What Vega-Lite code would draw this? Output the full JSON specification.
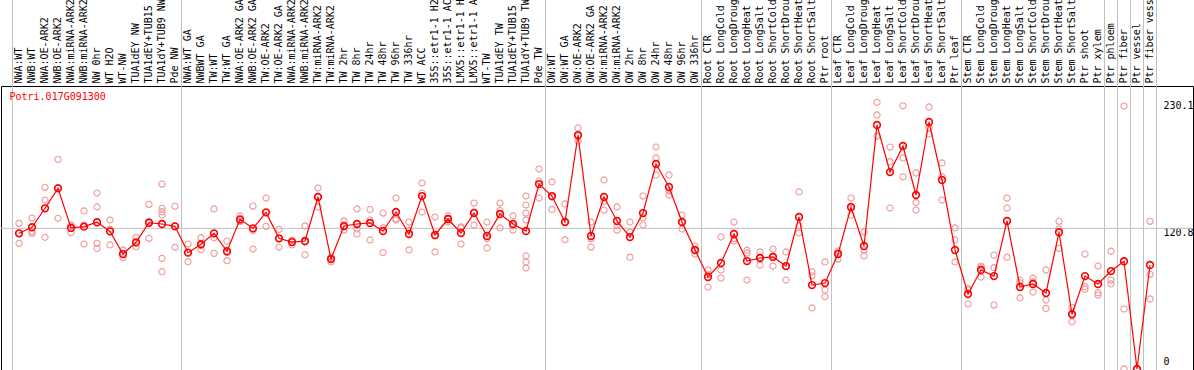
{
 "$schema": "https://vega.github.io/schema/vega-lite/v6.json",
 "width": 1192, "height": 284,
 "autosize": {"type": "none"},
 "padding": {"left": 1, "top": 86, "right": 1, "bottom": 0},
 "background": "white",
 "config": {"view": {"stroke": "black", "strokeWidth": 1}, "font": "DejaVu Sans Mono"},
 "datasets": {
  "means": [
   {"s":"NWA:WT","v":116.5},{"s":"NWB:WT","v":121.7},{"s":"NWA:OE-ARK2","v":138.0},{"s":"NWB:OE-ARK2","v":155.1},{"s":"NWA:miRNA-ARK2","v":121.1},{"s":"NWB:miRNA-ARK2","v":122.2},{"s":"NW 0hr","v":126.0},{"s":"WT H2O","v":118.2},{"s":"WT-NW","v":98.7},{"s":"TUA1dEY NW","v":108.8},{"s":"TUA1dEY+TUB15 NW","v":125.6},{"s":"TUA1dY+TUB9 NW","v":124.5},{"s":"Pde NW","v":122.5},
   {"s":"NWA:WT GA","v":99.9},{"s":"NWBWT GA","v":107.1},{"s":"TW:WT","v":116.5},{"s":"TW:WT GA","v":101.1},{"s":"NWA:OE-ARK2 GA","v":128.5},{"s":"NWB:OE-ARK2 GA","v":120.8},{"s":"TW:OE-ARK2","v":134.5},{"s":"TW:OE-ARK2 GA","v":112.2},{"s":"NWA:miRNA-ARK2 GA","v":109.0},{"s":"NWB:miRNA-ARK2 GA","v":109.9},{"s":"TW:miRNA-ARK2","v":147.7},{"s":"TW:miRNA-ARK2 GA","v":94.4},{"s":"TW 2hr","v":122.8},{"s":"TW 8hr","v":124.5},{"s":"TW 24hr","v":125.4},{"s":"TW 48hr","v":118.5},{"s":"TW 96hr","v":134.8},{"s":"TW 336hr","v":115.9},{"s":"WT ACC","v":148.5},{"s":"35S::etr1-1 H2O","v":115.1},{"s":"35S::etr1-1 ACC","v":128.8},{"s":"LMX5::etr1-1 H2O","v":116.8},{"s":"LMX5::etr1-1 ACC","v":133.9},{"s":"WT-TW","v":114.2},{"s":"TUA1dEY TW","v":133.1},{"s":"TUA1dEY+TUB15 TW","v":124.5},{"s":"TUA1dY+TUB9 TW","v":118.5},{"s":"Pde TW","v":158.8},
   {"s":"OW:WT","v":148.5},{"s":"OW:WT GA","v":126.2},{"s":"OW:OE-ARK2","v":200.9},{"s":"OW:OE-ARK2 GA","v":114.2},{"s":"OW:miRNA-ARK2","v":147.7},{"s":"OW:miRNA-ARK2 GA","v":127.1},{"s":"OW 2hr","v":113.3},{"s":"OW 8hr","v":133.9},{"s":"OW 24hr","v":176.0},{"s":"OW 48hr","v":156.3},{"s":"OW 96hr","v":126.2},{"s":"OW 336hr","v":102.2},
   {"s":"Root CTR","v":79.0},{"s":"Root LongCold","v":91.0},{"s":"Root LongDrought","v":115.9},{"s":"Root LongHeat","v":92.7},{"s":"Root LongSalt","v":95.3},{"s":"Root ShortCold","v":96.2},{"s":"Root ShortDrought","v":88.4},{"s":"Root ShortHeat","v":130.5},{"s":"Root ShortSalt","v":72.1},{"s":"Ptr root","v":73.8},
   {"s":"Leaf CTR","v":98.7},{"s":"Leaf LongCold","v":139.1},{"s":"Leaf LongDrought","v":105.6},{"s":"Leaf LongHeat","v":209.5},{"s":"Leaf LongSalt","v":169.1},{"s":"Leaf ShortCold","v":191.5},{"s":"Leaf ShortDrought","v":149.4},{"s":"Leaf ShortHeat","v":212.1},{"s":"Leaf ShortSalt","v":162.3},{"s":"Ptr leaf","v":102.2},
   {"s":"Stem CTR","v":64.4},{"s":"Stem LongCold","v":85.0},{"s":"Stem LongDrought","v":79.8},{"s":"Stem LongHeat","v":127.1},{"s":"Stem LongSalt","v":70.4},{"s":"Stem ShortCold","v":73.0},{"s":"Stem ShortDrought","v":65.3},{"s":"Stem ShortHeat","v":117.4},{"s":"Stem ShortSalt","v":47.0},{"s":"Ptr shoot","v":79.8},
   {"s":"Ptr xylem","v":73.0},{"s":"Ptr phloem","v":84.1},{"s":"Ptr fiber","v":92.5},{"s":"Ptr vessel","v":0},{"s":"Ptr fiber vessel","v":89.3}
  ],
  "reps": [
   {"s":"NWA:WT","v":125.1},{"s":"NWA:WT","v":107.9},{"s":"NWA:WT","v":116.5},
   {"s":"NWB:WT","v":129.6},{"s":"NWB:WT","v":116.5},{"s":"NWB:WT","v":117.9},
   {"s":"NWA:OE-ARK2","v":156.0},{"s":"NWA:OE-ARK2","v":145.1},{"s":"NWA:OE-ARK2","v":113.1},
   {"s":"NWB:OE-ARK2","v":180.0},{"s":"NWB:OE-ARK2","v":129.4},{"s":"NWB:OE-ARK2","v":156.0},
   {"s":"NWA:miRNA-ARK2","v":123.6},{"s":"NWA:miRNA-ARK2","v":117.0},{"s":"NWA:miRNA-ARK2","v":122.7},
   {"s":"NWB:miRNA-ARK2","v":135.7},{"s":"NWB:miRNA-ARK2","v":107.3},{"s":"NWB:miRNA-ARK2","v":123.6},
   {"s":"NW 0hr","v":151.1},{"s":"NW 0hr","v":139.1},{"s":"NW 0hr","v":107.9},{"s":"NW 0hr","v":103.6},
   {"s":"WT H2O","v":127.9},{"s":"WT H2O","v":106.5},{"s":"WT H2O","v":120.0},
   {"s":"WT-NW","v":102.2},{"s":"WT-NW","v":95.6},{"s":"WT-NW","v":98.4},
   {"s":"TUA1dEY NW","v":113.1},{"s":"TUA1dEY NW","v":105.0},{"s":"TUA1dEY NW","v":108.3},
   {"s":"TUA1dEY+TUB15 NW","v":141.4},{"s":"TUA1dEY+TUB15 NW","v":112.2},{"s":"TUA1dEY+TUB15 NW","v":126.5},
   {"s":"TUA1dY+TUB9 NW","v":158.8},{"s":"TUA1dY+TUB9 NW","v":138.0},{"s":"TUA1dY+TUB9 NW","v":135.1},{"s":"TUA1dY+TUB9 NW","v":132.2},{"s":"TUA1dY+TUB9 NW","v":95.0},{"s":"TUA1dY+TUB9 NW","v":83.5},
   {"s":"Pde NW","v":139.7},{"s":"Pde NW","v":104.5},{"s":"Pde NW","v":123.0},
   {"s":"NWA:WT GA","v":107.3},{"s":"NWA:WT GA","v":92.1},{"s":"NWA:WT GA","v":100.0},
   {"s":"NWBWT GA","v":112.7},{"s":"NWBWT GA","v":102.4},{"s":"NWBWT GA","v":106.0},
   {"s":"TW:WT","v":137.4},{"s":"TW:WT","v":112.7},{"s":"TW:WT","v":99.3},
   {"s":"TW:WT GA","v":109.9},{"s":"TW:WT GA","v":93.0},{"s":"TW:WT GA","v":100.0},
   {"s":"NWA:OE-ARK2 GA","v":131.4},{"s":"NWA:OE-ARK2 GA","v":126.5},{"s":"NWA:OE-ARK2 GA","v":127.6},
   {"s":"NWB:OE-ARK2 GA","v":139.9},{"s":"NWB:OE-ARK2 GA","v":103.0},{"s":"NWB:OE-ARK2 GA","v":119.0},
   {"s":"TW:OE-ARK2","v":146.8},{"s":"TW:OE-ARK2","v":122.5},{"s":"TW:OE-ARK2","v":134.3},
   {"s":"TW:OE-ARK2 GA","v":119.9},{"s":"TW:OE-ARK2 GA","v":104.5},{"s":"TW:OE-ARK2 GA","v":112.0},
   {"s":"NWA:miRNA-ARK2 GA","v":110.2},{"s":"NWA:miRNA-ARK2 GA","v":106.5},{"s":"NWA:miRNA-ARK2 GA","v":110.3},
   {"s":"NWB:miRNA-ARK2 GA","v":122.8},{"s":"NWB:miRNA-ARK2 GA","v":109.0},{"s":"NWB:miRNA-ARK2 GA","v":98.0},
   {"s":"TW:miRNA-ARK2","v":155.4},{"s":"TW:miRNA-ARK2","v":139.1},{"s":"TW:miRNA-ARK2","v":148.0},
   {"s":"TW:miRNA-ARK2 GA","v":96.2},{"s":"TW:miRNA-ARK2 GA","v":91.9},{"s":"TW:miRNA-ARK2 GA","v":95.0},
   {"s":"TW 2hr","v":127.1},{"s":"TW 2hr","v":119.3},{"s":"TW 2hr","v":122.0},
   {"s":"TW 8hr","v":137.4},{"s":"TW 8hr","v":120.2},{"s":"TW 8hr","v":116.0},
   {"s":"TW 24hr","v":127.9},{"s":"TW 24hr","v":110.8},{"s":"TW 24hr","v":137.0},
   {"s":"TW 48hr","v":133.9},{"s":"TW 48hr","v":121.1},{"s":"TW 48hr","v":100.0},
   {"s":"TW 96hr","v":146.8},{"s":"TW 96hr","v":127.9},{"s":"TW 96hr","v":129.0},
   {"s":"TW 336hr","v":126.2},{"s":"TW 336hr","v":102.2},{"s":"TW 336hr","v":119.0},
   {"s":"WT ACC","v":159.7},{"s":"WT ACC","v":134.8},{"s":"WT ACC","v":151.0},
   {"s":"35S::etr1-1 H2O","v":130.5},{"s":"35S::etr1-1 H2O","v":100.5},{"s":"35S::etr1-1 H2O","v":114.0},
   {"s":"35S::etr1-1 ACC","v":131.4},{"s":"35S::etr1-1 ACC","v":126.2},{"s":"35S::etr1-1 ACC","v":128.8},
   {"s":"LMX5::etr1-1 H2O","v":121.1},{"s":"LMX5::etr1-1 H2O","v":107.3},{"s":"LMX5::etr1-1 H2O","v":122.0},
   {"s":"LMX5::etr1-1 ACC","v":142.5},{"s":"LMX5::etr1-1 ACC","v":123.6},{"s":"LMX5::etr1-1 ACC","v":135.0},
   {"s":"WT-TW","v":126.2},{"s":"WT-TW","v":103.9},{"s":"WT-TW","v":112.0},
   {"s":"TUA1dEY TW","v":142.5},{"s":"TUA1dEY TW","v":121.1},{"s":"TUA1dEY TW","v":136.0},
   {"s":"TUA1dEY+TUB15 TW","v":131.4},{"s":"TUA1dEY+TUB15 TW","v":119.3},{"s":"TUA1dEY+TUB15 TW","v":123.0},
   {"s":"TUA1dY+TUB9 TW","v":148.5},{"s":"TUA1dY+TUB9 TW","v":140.8},{"s":"TUA1dY+TUB9 TW","v":133.9},{"s":"TUA1dY+TUB9 TW","v":127.9},{"s":"TUA1dY+TUB9 TW","v":97.0},{"s":"TUA1dY+TUB9 TW","v":91.9},{"s":"TUA1dY+TUB9 TW","v":86.7},
   {"s":"Pde TW","v":171.7},{"s":"Pde TW","v":161.4},{"s":"Pde TW","v":146.8},
   {"s":"OW:WT","v":160.6},{"s":"OW:WT","v":147.7},{"s":"OW:WT","v":137.0},
   {"s":"OW:WT GA","v":141.7},{"s":"OW:WT GA","v":126.2},{"s":"OW:WT GA","v":111.0},
   {"s":"OW:OE-ARK2","v":206.9},{"s":"OW:OE-ARK2","v":195.8},{"s":"OW:OE-ARK2","v":200.0},
   {"s":"OW:OE-ARK2 GA","v":126.2},{"s":"OW:OE-ARK2 GA","v":104.7},{"s":"OW:OE-ARK2 GA","v":112.0},
   {"s":"OW:miRNA-ARK2","v":162.3},{"s":"OW:miRNA-ARK2","v":136.5},{"s":"OW:miRNA-ARK2","v":144.0},
   {"s":"OW:miRNA-ARK2 GA","v":139.1},{"s":"OW:miRNA-ARK2 GA","v":119.3},{"s":"OW:miRNA-ARK2 GA","v":123.0},
   {"s":"OW 2hr","v":126.2},{"s":"OW 2hr","v":117.6},{"s":"OW 2hr","v":96.0},
   {"s":"OW 8hr","v":148.5},{"s":"OW 8hr","v":123.6},{"s":"OW 8hr","v":130.0},
   {"s":"OW 24hr","v":190.6},{"s":"OW 24hr","v":181.2},{"s":"OW 24hr","v":166.6},
   {"s":"OW 48hr","v":166.6},{"s":"OW 48hr","v":149.4},{"s":"OW 48hr","v":153.0},
   {"s":"OW 96hr","v":132.2},{"s":"OW 96hr","v":120.2},{"s":"OW 96hr","v":126.0},
   {"s":"OW 336hr","v":105.6},{"s":"OW 336hr","v":98.7},{"s":"OW 336hr","v":102.0},
   {"s":"Root CTR","v":85.0},{"s":"Root CTR","v":70.4},{"s":"Root CTR","v":81.0},
   {"s":"Root LongCold","v":113.3},{"s":"Root LongCold","v":85.0},{"s":"Root LongCold","v":78.1},
   {"s":"Root LongDrought","v":126.2},{"s":"Root LongDrought","v":109.9},{"s":"Root LongDrought","v":112.0},
   {"s":"Root LongHeat","v":99.6},{"s":"Root LongHeat","v":76.4},{"s":"Root LongHeat","v":102.0},
   {"s":"Root LongSalt","v":100.5},{"s":"Root LongSalt","v":89.3},{"s":"Root LongSalt","v":96.0},
   {"s":"Root ShortCold","v":97.0},{"s":"Root ShortCold","v":88.4},{"s":"Root ShortCold","v":103.0},
   {"s":"Root ShortDrought","v":100.5},{"s":"Root ShortDrought","v":76.4},{"s":"Root ShortDrought","v":88.0},
   {"s":"Root ShortHeat","v":152.0},{"s":"Root ShortHeat","v":116.8},{"s":"Root ShortHeat","v":123.0},
   {"s":"Root ShortSalt","v":83.3},{"s":"Root ShortSalt","v":52.4},{"s":"Root ShortSalt","v":80.0},
   {"s":"Ptr root","v":91.9},{"s":"Ptr root","v":67.8},{"s":"Ptr root","v":62.0},
   {"s":"Leaf CTR","v":101.3},{"s":"Leaf CTR","v":94.4},{"s":"Leaf CTR","v":100.0},
   {"s":"Leaf LongCold","v":146.8},{"s":"Leaf LongCold","v":132.2},{"s":"Leaf LongCold","v":138.0},
   {"s":"Leaf LongDrought","v":117.6},{"s":"Leaf LongDrought","v":102.2},{"s":"Leaf LongDrought","v":97.0},
   {"s":"Leaf LongHeat","v":229.0},{"s":"Leaf LongHeat","v":218.1},{"s":"Leaf LongHeat","v":200.0},
   {"s":"Leaf LongSalt","v":190.6},{"s":"Leaf LongSalt","v":138.2},{"s":"Leaf LongSalt","v":178.0},
   {"s":"Leaf ShortCold","v":226.0},{"s":"Leaf ShortCold","v":181.2},{"s":"Leaf ShortCold","v":165.0},
   {"s":"Leaf ShortDrought","v":168.3},{"s":"Leaf ShortDrought","v":136.5},{"s":"Leaf ShortDrought","v":143.0},
   {"s":"Leaf ShortHeat","v":225.0},{"s":"Leaf ShortHeat","v":201.8},{"s":"Leaf ShortHeat","v":207.0},
   {"s":"Leaf ShortSalt","v":176.9},{"s":"Leaf ShortSalt","v":145.1},{"s":"Leaf ShortSalt","v":165.0},
   {"s":"Ptr leaf","v":121.1},{"s":"Ptr leaf","v":110.8},{"s":"Ptr leaf","v":91.9},
   {"s":"Stem CTR","v":67.8},{"s":"Stem CTR","v":55.8},{"s":"Stem CTR","v":69.0},
   {"s":"Stem LongCold","v":88.4},{"s":"Stem LongCold","v":79.0},{"s":"Stem LongCold","v":87.0},
   {"s":"Stem LongDrought","v":97.8},{"s":"Stem LongDrought","v":54.9},{"s":"Stem LongDrought","v":87.0},
   {"s":"Stem LongHeat","v":146.8},{"s":"Stem LongHeat","v":138.2},{"s":"Stem LongHeat","v":96.0},
   {"s":"Stem LongSalt","v":76.4},{"s":"Stem LongSalt","v":61.0},{"s":"Stem LongSalt","v":74.0},
   {"s":"Stem ShortCold","v":74.7},{"s":"Stem ShortCold","v":66.1},{"s":"Stem ShortCold","v":78.0},
   {"s":"Stem ShortDrought","v":85.0},{"s":"Stem ShortDrought","v":59.2},{"s":"Stem ShortDrought","v":52.0},
   {"s":"Stem ShortHeat","v":126.8},{"s":"Stem ShortHeat","v":120.2},{"s":"Stem ShortHeat","v":103.6},
   {"s":"Stem ShortSalt","v":53.0},{"s":"Stem ShortSalt","v":40.6},{"s":"Stem ShortSalt","v":47.0},
   {"s":"Ptr shoot","v":98.7},{"s":"Ptr shoot","v":70.7},{"s":"Ptr shoot","v":68.5},
   {"s":"Ptr xylem","v":88.4},{"s":"Ptr xylem","v":65.5},{"s":"Ptr xylem","v":63.5},
   {"s":"Ptr phloem","v":101.1},{"s":"Ptr phloem","v":76.4},{"s":"Ptr phloem","v":73.0},
   {"s":"Ptr fiber","v":225.8},{"s":"Ptr fiber","v":51.5},{"s":"Ptr fiber","v":0},
   {"s":"Ptr vessel","v":0},{"s":"Ptr vessel","v":0},{"s":"Ptr vessel","v":0},
   {"s":"Ptr fiber vessel","v":126.8},{"s":"Ptr fiber vessel","v":81.3},{"s":"Ptr fiber vessel","v":60.1}
  ]
 },
 "layer": [
  {
   "data": {"values": [{"s": "NWA:WT"}]},
   "mark": {"type": "rule", "color": "#c0c0c0", "strokeWidth": 1},
   "encoding": {"x": {"field": "s", "type": "nominal", "bandPosition": 0}, "y": {"datum": -5}, "y2": {"datum": 330}}
  },
  {
   "data": {"values": [{"s": "Pde NW"}, {"s": "Pde TW"}, {"s": "OW 336hr"}, {"s": "Ptr root"}, {"s": "Ptr leaf"}, {"s": "Ptr xylem"}, {"s": "Ptr phloem"}, {"s": "Ptr fiber"}, {"s": "Ptr vessel"}, {"s": "Ptr fiber vessel"}]},
   "mark": {"type": "rule", "color": "#c0c0c0", "strokeWidth": 1},
   "encoding": {"x": {"field": "s", "type": "nominal", "bandPosition": 1}, "y": {"datum": -5}, "y2": {"datum": 330}}
  },
  {
   "data": {"values": [{}]},
   "mark": {"type": "rule", "color": "#c0c0c0", "strokeWidth": 1},
   "encoding": {"y": {"datum": 120.8}}
  },
  {
   "data": {"name": "reps"},
   "mark": {"type": "point", "shape": "circle", "filled": false, "color": "#f09898", "size": 38, "strokeWidth": 1.1, "opacity": 1},
   "encoding": {
    "x": {"field": "s", "type": "nominal",
     "scale": {"type": "band", "range": [11.5, 1155.5], "paddingInner": 0, "paddingOuter": 0,
      "domain": ["NWA:WT","NWB:WT","NWA:OE-ARK2","NWB:OE-ARK2","NWA:miRNA-ARK2","NWB:miRNA-ARK2","NW 0hr","WT H2O","WT-NW","TUA1dEY NW","TUA1dEY+TUB15 NW","TUA1dY+TUB9 NW","Pde NW","NWA:WT GA","NWBWT GA","TW:WT","TW:WT GA","NWA:OE-ARK2 GA","NWB:OE-ARK2 GA","TW:OE-ARK2","TW:OE-ARK2 GA","NWA:miRNA-ARK2 GA","NWB:miRNA-ARK2 GA","TW:miRNA-ARK2","TW:miRNA-ARK2 GA","TW 2hr","TW 8hr","TW 24hr","TW 48hr","TW 96hr","TW 336hr","WT ACC","35S::etr1-1 H2O","35S::etr1-1 ACC","LMX5::etr1-1 H2O","LMX5::etr1-1 ACC","WT-TW","TUA1dEY TW","TUA1dEY+TUB15 TW","TUA1dY+TUB9 TW","Pde TW","OW:WT","OW:WT GA","OW:OE-ARK2","OW:OE-ARK2 GA","OW:miRNA-ARK2","OW:miRNA-ARK2 GA","OW 2hr","OW 8hr","OW 24hr","OW 48hr","OW 96hr","OW 336hr","Root CTR","Root LongCold","Root LongDrought","Root LongHeat","Root LongSalt","Root ShortCold","Root ShortDrought","Root ShortHeat","Root ShortSalt","Ptr root","Leaf CTR","Leaf LongCold","Leaf LongDrought","Leaf LongHeat","Leaf LongSalt","Leaf ShortCold","Leaf ShortDrought","Leaf ShortHeat","Leaf ShortSalt","Ptr leaf","Stem CTR","Stem LongCold","Stem LongDrought","Stem LongHeat","Stem LongSalt","Stem ShortCold","Stem ShortDrought","Stem ShortHeat","Stem ShortSalt","Ptr shoot","Ptr xylem","Ptr phloem","Ptr fiber","Ptr vessel","Ptr fiber vessel"]},
     "axis": {"orient": "top", "title": null, "labelAngle": -90, "labelAlign": "left", "labelBaseline": "middle", "labelPadding": 3, "ticks": false, "domain": false, "grid": false, "labelFont": "DejaVu Sans Mono", "labelFontSize": 10, "labelColor": "black", "labelLimit": 400, "labelOverlap": false, "labelBound": false}},
    "y": {"field": "v", "type": "quantitative",
     "scale": {"domain": [-0.86, 243.0], "nice": false, "zero": false},
     "axis": {"orient": "right", "offset": -38, "title": null, "values": [0, 120.8, 230.1], "labelExpr": "datum.value == 0 ? '0' : format(datum.value, '.1f')", "ticks": false, "domain": false, "grid": false, "labelAlign": "left", "labelBaseline": "middle", "labelPadding": 8, "labelFont": "DejaVu Sans Mono", "labelFontSize": 10, "labelColor": "black", "labelFlush": false, "labelOffset": {"condition": {"test": "datum.value == 0", "value": -7}, "value": 4}}}
   }
  },
  {
   "data": {"name": "means"},
   "mark": {"type": "line", "color": "#ff0000", "strokeWidth": 1.2},
   "encoding": {"x": {"field": "s", "type": "nominal"}, "y": {"field": "v", "type": "quantitative"}}
  },
  {
   "data": {"name": "means"},
   "mark": {"type": "point", "shape": "circle", "filled": false, "color": "#ff0000", "size": 45, "strokeWidth": 1.6, "opacity": 1},
   "encoding": {"x": {"field": "s", "type": "nominal"}, "y": {"field": "v", "type": "quantitative"}}
  },
  {
   "data": {"values": [{"s": "NWA:WT", "t": "Potri.017G091300"}]},
   "mark": {"type": "text", "color": "#ff0000", "font": "DejaVu Sans Mono", "fontSize": 10, "align": "left", "baseline": "middle", "dx": -3},
   "encoding": {"x": {"field": "s", "type": "nominal", "bandPosition": 0}, "y": {"datum": 233.5}, "text": {"field": "t"}}
  }
 ]
}
